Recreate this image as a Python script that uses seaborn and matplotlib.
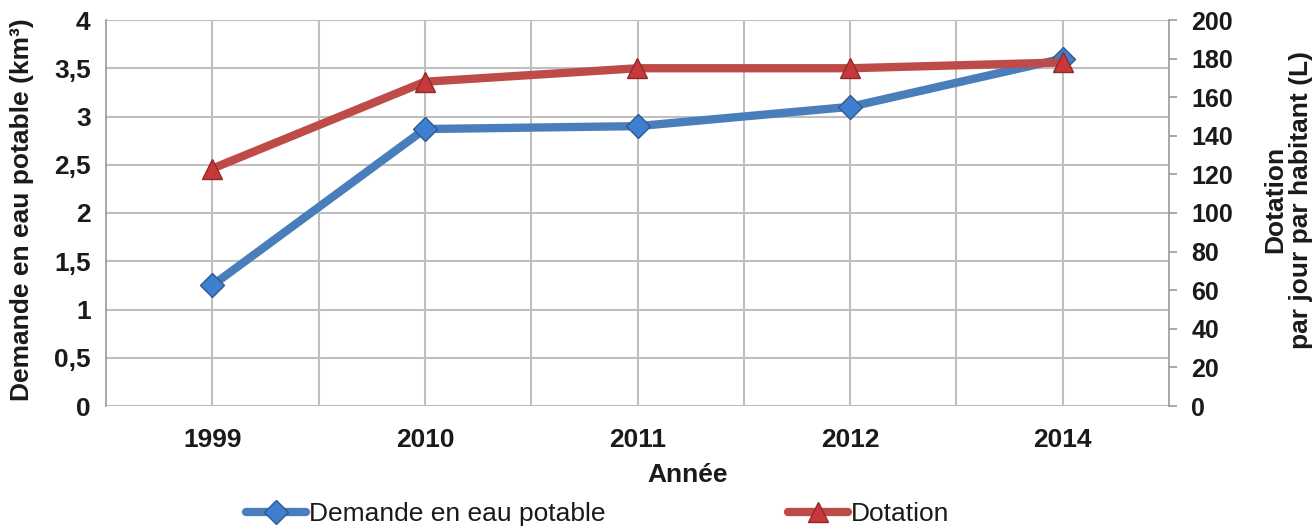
import numpy as np
import matplotlib
matplotlib.use("Agg")
import matplotlib.pyplot as plt
import seaborn as sns
from matplotlib.lines import Line2D

annees = ["1999", "2010", "2011", "2012", "2014"]
demande = [1.25, 2.87, 2.90, 3.10, 3.60]
dotation = [123, 168, 175, 175, 178]

sns.set_theme(style="white")
plt.rcParams['font.family'] = ['Liberation Sans', 'DejaVu Sans']

blue = "#4A7EBB"
red = "#BE4B48"
grid = "#BFBFBF"
txt = "#1a1a1a"

fig = plt.figure(figsize=(13.15, 5.27), dpi=100)
ax = fig.add_axes([106/1315, 1-406/527, (1169-106)/1315, (406-20)/527])
ax2 = ax.twinx()

xpos = np.arange(len(annees))

ax.set_xlim(-0.5, len(annees) - 0.5)
ax.set_ylim(0, 4)
ax.set_yticks(np.arange(0, 4.01, 0.5))
ax.set_xticks(xpos)
ax.set_xticks(np.arange(0.5, len(annees) - 1, 1.0), minor=True)
ax.grid(True, which="major", axis="both", color=grid, lw=1.5)
ax.grid(True, which="minor", axis="x", color=grid, lw=1.5)
ax.set_axisbelow(True)

sns.lineplot(x=xpos, y=demande, ax=ax, color=blue, lw=6, marker="D", markersize=12,
             markerfacecolor="#3F7FD0", markeredgecolor="#2D5A8F", markeredgewidth=1,
             sort=False, legend=False, zorder=3)
sns.lineplot(x=xpos, y=dotation, ax=ax2, color=red, lw=6, marker="^", markersize=15,
             markerfacecolor="#C8383A", markeredgecolor="#8E2A2A", markeredgewidth=1,
             sort=False, legend=False, zorder=3)
ax2.set_ylim(0, 200)
ax2.set_yticks(np.arange(0, 201, 20))

ax.set_xticklabels(annees, fontsize=19, fontweight="bold", color=txt)
ax.set_yticklabels(["0", "0,5", "1", "1,5", "2", "2,5", "3", "3,5", "4"],
                   fontsize=19, fontweight="bold", color=txt)
ax2.set_yticklabels([str(v) for v in range(0, 201, 20)], fontsize=18,
                    fontweight="bold", color=txt)

ax.tick_params(axis="x", length=0, pad=16)
ax.tick_params(axis="x", which="minor", length=0)
ax.tick_params(axis="y", length=0, pad=11)
ax2.tick_params(axis="y", length=6, width=1.2, color="#999999", pad=10, direction="out")

for a in (ax, ax2):
    for s in a.spines.values():
        s.set_visible(False)
ax.spines["left"].set_visible(True)
ax.spines["left"].set_color("#999999")
ax.spines["left"].set_linewidth(1.2)
ax2.spines["right"].set_visible(True)
ax2.spines["right"].set_color("#999999")
ax2.spines["right"].set_linewidth(1.2)

ax.set_xlabel("Année", fontsize=19, fontweight="bold", color=txt)
ax.xaxis.set_label_coords((688 - 106) / (1169 - 106), -0.147)
ax.set_ylabel("Demande en eau potable (km³)", fontsize=19, fontweight="bold",
              color=txt)
ax.yaxis.set_label_coords(-0.0677, 0.508)
ax2.set_ylabel("Dotation\npar jour par habitant (L)", fontsize=19, fontweight="bold",
               color=txt, linespacing=1.05)
ax2.yaxis.set_label_coords(1.089, 0.534)

handles = [
    Line2D([], [], color=blue, lw=6, marker="D", markersize=12,
           markerfacecolor="#3F7FD0", markeredgecolor="#2D5A8F", solid_capstyle="round"),
    Line2D([], [], color=red, lw=6, marker="^", markersize=15,
           markerfacecolor="#C8383A", markeredgecolor="#8E2A2A", solid_capstyle="round"),
]
leg = fig.legend(handles, ["Demande en eau potable", "Dotation"], loc="lower left",
                 bbox_to_anchor=(222/1315, -0.044), ncol=2, frameon=False, fontsize=19,
                 handlelength=2.3, handletextpad=0.1, columnspacing=6.9)
for t in leg.get_texts():
    t.set_color(txt)

fig.savefig("out.png", dpi=100)
